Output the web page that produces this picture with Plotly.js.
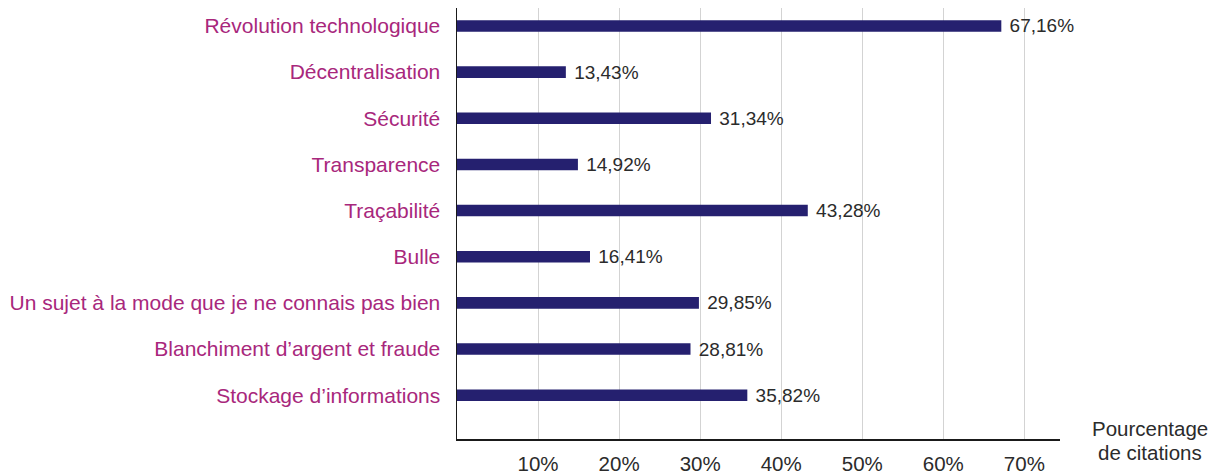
<!DOCTYPE html>
<html>
<head>
<meta charset="utf-8">
<script src="https://cdn.plot.ly/plotly-3.0.1.min.js"></script>
<style>html,body{margin:0;padding:0;background:#fff;}#chart{width:1218px;height:474px;}</style>
</head>
<body>
<div id="chart"></div>
<script>
const categories = [
  "Révolution technologique",
  "Décentralisation",
  "Sécurité",
  "Transparence",
  "Traçabilité",
  "Bulle",
  "Un sujet à la mode que je ne connais pas bien",
  "Blanchiment d’argent et fraude",
  "Stockage d’informations"
];
const values = [67.16, 13.43, 31.34, 14.92, 43.28, 16.41, 29.85, 28.81, 35.82];
const tickValues = [10, 20, 30, 40, 50, 60, 70];
const tickLabels = ["10%", "20%", "30%", "40%", "50%", "60%", "70%"];
const axisTitleLines = ["Pourcentage", "de citations"];

const FONT = "'Liberation Sans', Arial, Helvetica, sans-serif";
const labels = values.map(v => "\u00a0" + v.toFixed(2).replace(".", ",") + "%");

const trace = {
  type: "bar",
  orientation: "h",
  x: values,
  y: categories,
  width: 0.25,
  marker: {color: "#25206f"},
  text: labels,
  textposition: "outside",
  constraintext: "none",
  cliponaxis: false,
  textfont: {family: FONT, size: 19, color: "#2b2b2b"},
  hoverinfo: "x+y"
};

const titleY = [0.0248, -0.031];

const layout = {
  width: 1218,
  height: 474,
  margin: {l: 457, r: 158, t: 8, b: 35},
  paper_bgcolor: "#ffffff",
  plot_bgcolor: "#ffffff",
  showlegend: false,
  font: {family: FONT},
  xaxis: {
    range: [0, 74.4],
    tickvals: tickValues,
    ticktext: tickLabels,
    showgrid: true,
    gridcolor: "#d3d3d3",
    gridwidth: 1,
    zeroline: false,
    showline: true,
    linecolor: "#1a1a1a",
    linewidth: 1.5,
    ticks: "",
    ticklabelstandoff: 6,
    tickfont: {family: FONT, size: 20.5, color: "#2b2b2b"},
    fixedrange: true
  },
  yaxis: {
    type: "category",
    categoryorder: "array",
    categoryarray: categories,
    range: [8.95, -0.39],
    showgrid: false,
    zeroline: false,
    showline: true,
    linecolor: "#1a1a1a",
    linewidth: 1.5,
    ticks: "",
    ticklabelstandoff: 11,
    tickfont: {family: FONT, size: 21, color: "#a8277c"},
    fixedrange: true
  },
  annotations: axisTitleLines.map((t, i) => ({
    text: t,
    xref: "paper", yref: "paper",
    x: 1.149, y: titleY[i],
    xanchor: "center", yanchor: "middle",
    showarrow: false,
    font: {family: FONT, size: 20.5, color: "#2b2b2b"}
  }))
};

Plotly.newPlot("chart", [trace], layout, {displayModeBar: false, staticPlot: true});
</script>
</body>
</html>
